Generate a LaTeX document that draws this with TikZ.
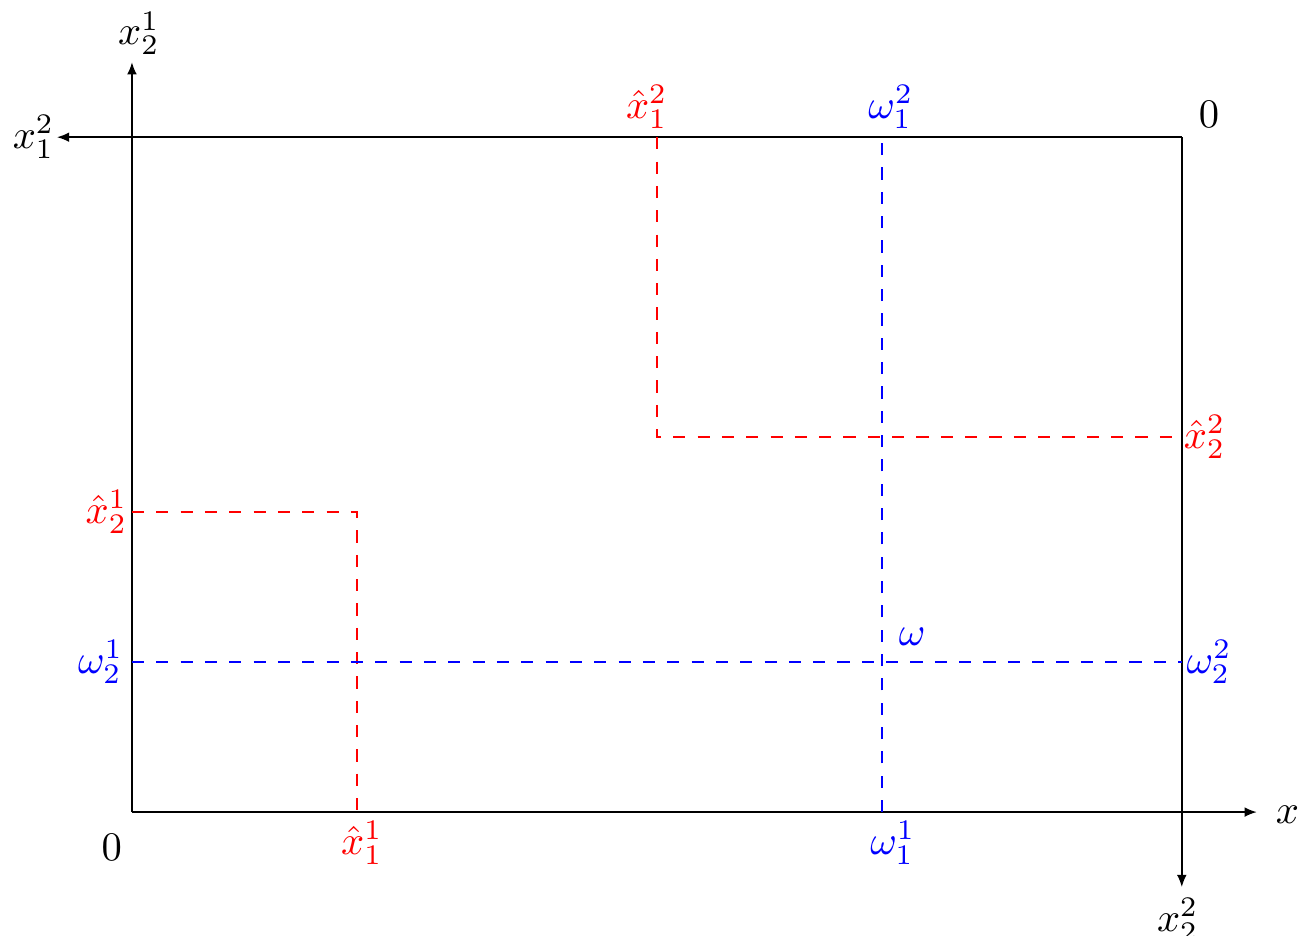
\documentclass[tikz,border=0pt]{standalone}
\usepackage{amsmath, amssymb}
\usetikzlibrary{arrows.meta, positioning}

\begin{document}
\begin{tikzpicture}[
    x=0.65cm, y=0.65cm,
    axis/.style={-{Latex[length=3pt, width=2.4pt]}, black},
    alloc/.style={dashed, red},
    endow/.style={dashed, blue},
    lbl/.style={inner sep=2pt}
  ]
  \useasboundingbox (-1.76,-1.65) rectangle (15.59,10.83);
  % corners of the box
  \coordinate (O1) at (0,0);
  \coordinate (O2) at (14,9);
  % axis ends
  \coordinate (X11) at (15,0);
  \coordinate (X21) at (0,10);
  \coordinate (X12) at (-1,9);
  \coordinate (X22) at (14,-1);
  % allocation and endowment
  \coordinate (XA) at (3,4);
  \coordinate (XB) at (7,5);
  \coordinate (W) at (10,2);
  \coordinate (XAb) at (3,0);
  \coordinate (XAl) at (0,4);
  \coordinate (XBt) at (7,9);
  \coordinate (XBr) at (14,5);
  \coordinate (Wb) at (10,0);
  \coordinate (Wt) at (10,9);
  \coordinate (Wl) at (0,2);
  \coordinate (Wr) at (14,2);

  \draw[axis] (O1) -- (X11);
  \draw[axis] (O1) -- (X21);
  \draw[axis] (O2) -- (X12);
  \draw[axis] (O2) -- (X22);

  \draw[alloc] (XAl) -- (XA) -- (XAb);
  \draw[alloc] (XBt) -- (XB) -- (XBr);
  \draw[endow] (Wl) -- (Wr);
  \draw[endow] (Wb) -- (Wt);

  \node[lbl, above=0pt of X21, xshift=1.7pt, yshift=-0.4pt] (lx21) {$x_2^1$};
  \node[lbl, right=0pt of X11, xshift=2.5pt] (lx11) {$x_1^1$};
  \node[lbl, left=0pt of X12, xshift=1.5pt] (lx12) {$x_1^2$};
  \node[lbl, below=0pt of X22, xshift=-1pt, yshift=-0.5pt] (lx22) {$x_2^2$};
  \node[lbl, below left=3.2pt and 0.3pt of O1] (lo1) {$0$};
  \node[lbl, above right=0.3pt and 2pt of O2] (lo2) {$0$};

  \node[lbl, red, below=0pt of XAb, xshift=1.2pt] (lxa1) {$\hat{x}_1^1$};
  \node[lbl, red, left=0pt of XAl, xshift=1pt] (lxa2) {$\hat{x}_2^1$};
  \node[lbl, red, above=0pt of XBt, xshift=-2.5pt] (lxb1) {$\hat{x}_1^2$};
  \node[lbl, red, right=0pt of XBr, xshift=-1.7pt] (lxb2) {$\hat{x}_2^2$};

  \node[lbl, blue, below=0pt of Wb, xshift=2.7pt] (lw11) {$\omega_1^1$};
  \node[lbl, blue, above=0pt of Wt, xshift=2.2pt] (lw12) {$\omega_1^2$};
  \node[lbl, blue, left=0pt of Wl] (lw21) {$\omega_2^1$};
  \node[lbl, blue, right=0pt of Wr, xshift=-1pt] (lw22) {$\omega_2^2$};
  \node[lbl, blue, above right=2pt and 2pt of W] (lw) {$\omega$};
\end{tikzpicture}
\end{document}
